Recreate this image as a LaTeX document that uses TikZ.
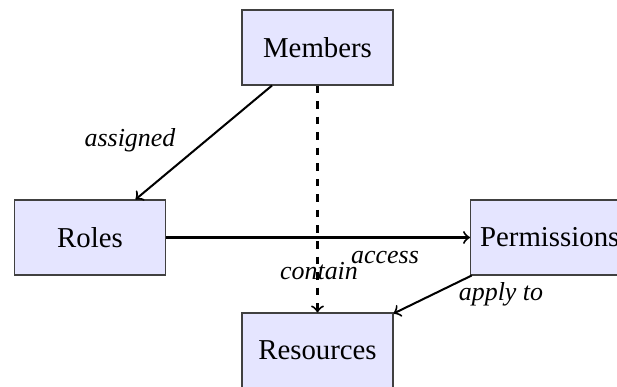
\documentclass[tikz,border=0pt]{standalone}
\usepackage{fontspec}
\setmainfont{Liberation Serif}
\begin{document}
\begin{tikzpicture}[x=0.3472pt,y=-0.3472pt,
  box/.style={draw=black!75,fill=blue!10,minimum width=52.4pt,minimum height=26pt,inner sep=3.33pt,font=\normalsize},
  lbl/.style={font=\small\itshape,anchor=base,inner sep=0pt},
  conn/.style={->,line width=0.7pt},
  dash7/.style={dash pattern=on 2.6pt off 2.8pt}]
\useasboundingbox (0,0) rectangle (617,387);
\node[box] (members) at (317.5,47.5) {Members};
\node[box] (roles) at (90,237.5) {Roles};
\node[box,anchor=west] (perms) at (470,237.5) {Permissions};
\node[box] (res) at (317.5,350.5) {Resources};
\draw[conn] (members) -- (roles);
\draw[conn] (roles) -- (perms);
\draw[conn,dash7] (members) -- (res);
\draw[conn] (perms) -- (res);
\node[lbl] (lassigned) at (130,147) {assigned};
\node[lbl] (laccess) at (385,264) {access};
\node[lbl] (lcontain) at (319,280) {contain};
\node[lbl] (lapply) at (501,301) {apply to};
\end{tikzpicture}
\end{document}
